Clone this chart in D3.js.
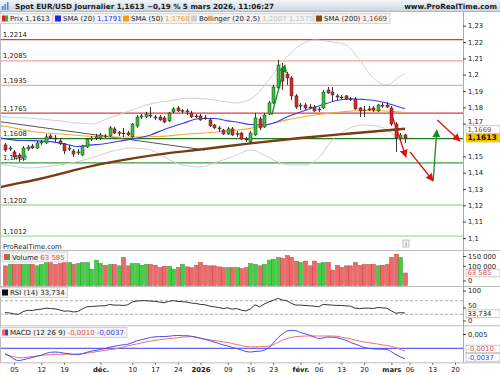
<!DOCTYPE html>
<html>
<head>
<meta charset="utf-8">
<title>Spot EUR/USD Journalier</title>
<script src="https://cdn.jsdelivr.net/npm/d3@7"></script>
<style>
body { margin: 0; background: #fff; }
svg text { font-family: "DejaVu Sans", Verdana, sans-serif; }
</style>
</head>
<body>
<svg id="chart" width="500" height="375"></svg>
<script>
// ---- data ----
const opens  = [1.1570,1.1545,1.1527,1.1508,1.1490,1.1545,1.1563,1.1551,1.1582,1.1582,
                1.1625,1.1612,1.1594,1.1576,1.1545,1.1533,1.1521,1.1508,1.1557,1.1606,
                1.1612,1.1612,1.1625,1.1625,1.1668,1.1643,1.1643,1.1643,1.1619,1.1686,
                1.1741,1.1741,1.1753,1.1741,1.1741,1.1735,1.1717,1.1772,1.1796,1.1778,
                1.1778,1.1765,1.1747,1.1747,1.1735,1.1723,1.1692,1.1674,1.1661,1.1637,
                1.1668,1.1637,1.1643,1.1606,1.1588,1.1631,1.1729,1.1680,1.1759,1.1827,
                1.1919,1.2041,1.2004,1.1980,1.1870,1.1808,1.1814,1.1802,1.1802,1.1784,
                1.1796,1.1906,1.1894,1.1870,1.1863,1.1870,1.1851,1.1851,1.1796,1.1784,
                1.1790,1.1796,1.1778,1.1814,1.1814,1.1796,1.1698,1.1612,1.1631];
const highs  = [1.1582,1.1563,1.1539,1.1521,1.1563,1.1570,1.1576,1.1594,1.1600,1.1637,
                1.1637,1.1631,1.1606,1.1582,1.1570,1.1545,1.1545,1.1570,1.1612,1.1625,
                1.1637,1.1643,1.1637,1.1686,1.1680,1.1655,1.1674,1.1655,1.1704,1.1753,
                1.1759,1.1772,1.1802,1.1753,1.1753,1.1747,1.1772,1.1802,1.1808,1.1790,
                1.1790,1.1778,1.1759,1.1759,1.1753,1.1735,1.1698,1.1686,1.1668,1.1680,
                1.1680,1.1655,1.1649,1.1619,1.1655,1.1765,1.1741,1.1765,1.1839,1.1937,
                1.2090,1.2071,1.2016,1.1992,1.1882,1.1827,1.1827,1.1821,1.1814,1.1802,
                1.1906,1.1925,1.1925,1.1882,1.1876,1.1876,1.1863,1.1863,1.1802,1.1808,
                1.1808,1.1808,1.1821,1.1827,1.1833,1.1808,1.1710,1.1643,1.1637];
const lows   = [1.1527,1.1533,1.1478,1.1466,1.1472,1.1533,1.1545,1.1545,1.1570,1.1576,
                1.1606,1.1588,1.1570,1.1514,1.1533,1.1496,1.1508,1.1502,1.1551,1.1594,
                1.1600,1.1600,1.1612,1.1619,1.1637,1.1625,1.1619,1.1625,1.1612,1.1674,
                1.1729,1.1735,1.1735,1.1723,1.1717,1.1704,1.1710,1.1765,1.1772,1.1765,
                1.1753,1.1735,1.1735,1.1717,1.1723,1.1680,1.1668,1.1649,1.1631,1.1631,
                1.1625,1.1619,1.1600,1.1588,1.1582,1.1625,1.1661,1.1674,1.1753,1.1821,
                1.1906,1.1906,1.1937,1.1845,1.1790,1.1784,1.1784,1.1790,1.1772,1.1772,
                1.1790,1.1882,1.1833,1.1845,1.1851,1.1845,1.1839,1.1784,1.1741,1.1741,
                1.1778,1.1772,1.1772,1.1796,1.1796,1.1686,1.1527,1.1600,1.1582];
const closes = [1.1539,1.1551,1.1496,1.1490,1.1551,1.1557,1.1551,1.1582,1.1588,1.1619,
                1.1612,1.1606,1.1576,1.1533,1.1551,1.1514,1.1527,1.1563,1.1606,1.1612,
                1.1619,1.1631,1.1622,1.1674,1.1643,1.1646,1.1640,1.1631,1.1698,1.1741,
                1.1747,1.1759,1.1747,1.1735,1.1723,1.1710,1.1765,1.1790,1.1778,1.1780,
                1.1772,1.1741,1.1745,1.1723,1.1733,1.1686,1.1674,1.1668,1.1637,1.1668,
                1.1631,1.1640,1.1606,1.1600,1.1643,1.1735,1.1674,1.1753,1.1827,1.1925,
                1.2059,1.1961,1.1980,1.1870,1.1802,1.1814,1.1796,1.1800,1.1778,1.1790,
                1.1894,1.1888,1.1876,1.1863,1.1860,1.1851,1.1848,1.1790,1.1778,1.1781,
                1.1787,1.1784,1.1814,1.1808,1.1802,1.1698,1.1612,1.1631,1.1613];
const volumes = [100000,107000,107000,107000,107000,107000,107000,100000,107000,121000,
                 117000,107000,112000,117000,117000,107000,112000,117000,117000,83000,
                 128000,112000,103000,107000,107000,100000,143000,100000,112000,112000,
                 103000,107000,107000,103000,91000,98000,98000,83000,91000,107000,
                 95000,91000,103000,117000,103000,100000,100000,95000,91000,91000,
                 91000,91000,86000,91000,112000,107000,100000,107000,129000,134000,
                 143000,138000,152000,143000,124000,117000,124000,100000,124000,112000,
                 117000,117000,78000,103000,91000,100000,100000,117000,103000,107000,
                 107000,107000,100000,103000,107000,143000,159000,143000,63585];
const rsiValues = [35,34,31,30,38,42,41,44,45,48,
                   47,46,43,39,40,37,38,46,52,53,
                   54,55,55,59,57,57,56,58,66,69,
                   70,70,69,68,66,64,68,70,68,67,
                   66,63,62,59,58,54,52,50,47,49,
                   45,47,42,40,46,58,52,60,66,71,
                   77,72,70,62,57,57,56,55,54,52,
                   59,58,57,56,56,55,54,48,47,48,
                   48,47,50,49,48,40,33,35,33.734];
const macdValues = [-0.0018,-0.0027,-0.0038,-0.0043,-0.0040,-0.0036,-0.0032,-0.0028,-0.0024,-0.0018,
                    -0.0014,-0.0013,-0.0014,-0.0017,-0.0019,-0.0021,-0.0022,-0.0019,-0.0014,-0.0010,
                    -0.0007,-0.0004,-0.0001,0.0004,0.0007,0.0010,0.0012,0.0014,0.0020,0.0026,
                    0.0030,0.0034,0.0038,0.0040,0.0041,0.0041,0.0042,0.0044,0.0045,0.0044,
                    0.0044,0.0042,0.0039,0.0035,0.0031,0.0027,0.0022,0.0017,0.0012,0.0008,
                    0.0003,-0.0001,-0.0006,-0.0011,-0.0013,-0.0011,-0.0010,-0.0007,0.0002,0.0018,
                    0.0036,0.0050,0.0060,0.0063,0.0062,0.0055,0.0051,0.0046,0.0040,0.0034,
                    0.0036,0.0039,0.0039,0.0037,0.0033,0.0028,0.0021,0.0015,0.0009,0.0003,
                    0.0000,-0.0002,-0.0003,-0.0003,-0.0004,-0.0012,-0.0022,-0.0030,-0.0037];
const signalValues = [-0.0022,-0.0026,-0.0030,-0.0033,-0.0033,-0.0031,-0.0029,-0.0027,-0.0025,-0.0023,
                      -0.0022,-0.0021,-0.0021,-0.0021,-0.0021,-0.0021,-0.0020,-0.0019,-0.0017,-0.0015,
                      -0.0012,-0.0010,-0.0007,-0.0005,-0.0003,0.0001,0.0004,0.0008,0.0012,0.0015,
                      0.0019,0.0022,0.0025,0.0028,0.0030,0.0032,0.0034,0.0035,0.0037,0.0039,
                      0.0040,0.0041,0.0039,0.0036,0.0032,0.0030,0.0027,0.0025,0.0022,0.0021,
                      0.0017,0.0013,0.0010,0.0006,0.0005,0.0005,0.0006,0.0006,0.0007,0.0012,
                      0.0020,0.0028,0.0034,0.0038,0.0041,0.0042,0.0043,0.0043,0.0043,0.0043,
                      0.0043,0.0043,0.0043,0.0042,0.0039,0.0036,0.0033,0.0029,0.0025,0.0022,
                      0.0020,0.0017,0.0015,0.0012,0.0010,0.0007,0.0002,-0.0004,-0.0010];

// moving averages / bands as [candle index, price]
const sma20 = [[-1,1.1612],[0,1.1608],[3,1.1597],[6,1.1596],[10,1.1590],[13,1.1577],[16,1.1560],[19,1.1570],
               [21,1.1574],[25,1.1592],[28,1.1606],[32,1.1631],[35,1.1664],[39,1.1701],[43,1.1732],[46,1.1732],
               [49,1.1717],[51,1.1710],[54,1.1695],[57,1.1692],[60,1.1713],[62,1.1741],[65,1.1772],[69,1.1808],
               [73,1.1842],[76,1.1853],[79,1.1848],[82,1.1839],[85,1.1817],[88,1.1791]];
const sma50 = [[-1,1.1688],[0,1.1684],[6,1.1652],[13,1.1635],[21,1.1620],[28,1.1618],[32,1.1620],[36,1.1625],
               [39,1.1634],[43,1.1641],[50,1.1658],[54,1.1671],[58,1.1695],[62,1.1723],[66,1.1744],[72,1.1767],
               [80,1.1781],[85,1.1776],[88,1.1768]];
const sma200 = [[-1,1.1311],[0,1.1318],[6,1.1352],[21,1.1452],[36,1.1520],[43,1.1542],[54,1.1579],
                [65,1.1612],[76,1.1640],[88,1.1669]];
const bollUpper = [[-1,1.1745],[0,1.1741],[5,1.1735],[12,1.1717],[19,1.1698],[23,1.1735],[28,1.1784],[32,1.1821],
                   [36,1.1839],[41,1.1857],[46,1.1845],[51,1.1827],[55,1.1870],[58,1.1967],[62,1.2108],[65,1.2182],
                   [68,1.2212],[72,1.2200],[75,1.2182],[78,1.2090],[81,1.1980],[84,1.1937],[87,1.1992],[88,1.2007]];
const bollLower = [[-1,1.1450],[0,1.1447],[5,1.1429],[12,1.1447],[19,1.1490],[23,1.1527],[28,1.1551],[32,1.1539],
                   [35,1.1496],[39,1.1447],[43,1.1435],[46,1.1459],[51,1.1508],[54,1.1539],[57,1.1508],[60,1.1466],
                   [63,1.1447],[66,1.1447],[69,1.1490],[72,1.1600],[76,1.1674],[79,1.1692],[82,1.1686],[85,1.1643],
                   [88,1.1575]];
const trendLine = [[-1.1,1.1712],[44,1.1539]];

// horizontal levels drawn on the chart
const levelValues = [1.2214,1.2085,1.1935,1.1765,1.1608,1.1460,1.1202,1.1012];
const levelColors = ['#e23b3b','#f4a3a3','#f4a3a3','#e23b3b','#1e7a1e','#3c9c3c','#a9daa9','#a9daa9'];

// drawn arrows [index, price] -> [index, price]
const arrows = [
  {from:[58.7,1.1753], to:[61.6,1.2059], color:'#1a8a1a'},
  {from:[84.9,1.1772], to:[88.2,1.1496], color:'#e01010'},
  {from:[89.1,1.1527], to:[94.2,1.1349], color:'#e01010'},
  {from:[94.2,1.1349], to:[95.0,1.1661], color:'#1a8a1a'},
  {from:[95.1,1.1723], to:[100.1,1.1594], color:'#e01010'}
];

// date axis
const dateTickIdx    = [2,8,13,21,28,33,38,43,49,54,59,65,69,74,79,85,89,94,99];
const dateTickLabels = ['05','12','19','déc.','10','17','24','2026','09','16','23','févr.','06','13','20','mars','06','13','20'];
const boldTicks = ['déc.','2026','févr.','mars'];

const priceTicks = [1.1,1.11,1.12,1.13,1.14,1.15,1.17,1.18,1.19,1.2,1.21,1.22,1.23];
const volumeTicks = [0,100000,150000];
const rsiTicks = [0,50,100];
const macdTicks = [0.005];

// ---- layout ----
const plotR = 463;
const mainTop = 12, mainBot = 250.5, volTop = 251, volBot = 286.5, rsiTop = 287, rsiBot = 325.8, macdTop = 326, macdBot = 362.8;

const svg = d3.select('#chart');
const defs = svg.append('defs');

const x = d3.scaleLinear().domain([0, 88]).range([5, 405]);
const yMain = d3.scaleLinear().domain([1.1, 1.22]).range([238, 42]);
const yVol = d3.scaleLinear().domain([0, 150000]).range([285.5, 256]);
const yRsi = d3.scaleLinear().domain([0, 100]).range([324.5, 290.5]);
const yMacd = d3.scaleLinear().domain([0, 0.005]).range([348.3, 334]);

const comma = (v, d) => v.toFixed(d).replace('.', ',');
const fmtPrice = v => String(+v.toFixed(2)).replace('.', ',');
const fmtVol = d3.formatLocale({decimal: ',', thousands: '\u00a0', grouping: [3], currency: ['', '']}).format(',d');

function clip(id, y0, y1){
    defs.append('clipPath').attr('id', id)
        .append('rect').attr('x', 0).attr('y', y0).attr('width', plotR).attr('height', y1 - y0);
    return `url(#${id})`;
}

// ---- main panel ----
const main = svg.append('g').attr('clip-path', clip('clipMain', mainTop, mainBot));

main.selectAll('line.level').data(levelValues).join('line')
    .attr('class', 'level')
    .attr('x1', 0).attr('x2', plotR)
    .attr('y1', d => yMain(d)).attr('y2', d => yMain(d))
    .attr('stroke', (d, i) => levelColors[i]).attr('stroke-width', 1.3);

main.selectAll('text.level').data(levelValues).join('text')
    .attr('class', 'level')
    .attr('x', 3).attr('y', d => yMain(d) - 2.5)
    .attr('font-size', 6.8).attr('fill', '#222')
    .text(d => comma(d, 4));

const priceLine = d3.line().x(d => x(d[0])).y(d => yMain(d[1])).curve(d3.curveMonotoneX);

main.append('path').datum(bollUpper).attr('d', priceLine).attr('fill', 'none').attr('stroke', '#cfcfcf').attr('stroke-width', 1);
main.append('path').datum(bollLower).attr('d', priceLine).attr('fill', 'none').attr('stroke', '#cfcfcf').attr('stroke-width', 1);
main.append('path').datum(trendLine).attr('d', priceLine).attr('fill', 'none').attr('stroke', '#555').attr('stroke-width', 1);
main.append('path').datum(sma200).attr('d', priceLine).attr('fill', 'none').attr('stroke', '#7b3a10').attr('stroke-width', 2.4);
main.append('path').datum(sma50).attr('d', priceLine).attr('fill', 'none').attr('stroke', '#f7a830').attr('stroke-width', 1.1);
main.append('path').datum(sma20).attr('d', priceLine).attr('fill', 'none').attr('stroke', '#3b3bf0').attr('stroke-width', 1.1);

const candles = closes.map((c, i) => ({i, o: opens[i], h: highs[i], l: lows[i], c}));
const gCandle = main.append('g');
gCandle.selectAll('line').data(candles).join('line')
    .attr('x1', d => Math.round(x(d.i)) + 0.5).attr('x2', d => Math.round(x(d.i)) + 0.5)
    .attr('y1', d => yMain(d.h)).attr('y2', d => yMain(d.l))
    .attr('stroke', '#222').attr('stroke-width', 0.9);
gCandle.selectAll('rect').data(candles).join('rect')
    .attr('x', d => Math.round(x(d.i)) - 1).attr('width', 3)
    .attr('y', d => yMain(Math.max(d.o, d.c)))
    .attr('height', d => Math.max(0.8, Math.abs(yMain(d.o) - yMain(d.c))))
    .attr('fill', d => d.c > d.o ? '#35c435' : (d.c < d.o ? '#e52424' : '#222'))
    .attr('stroke', '#2a2a2a').attr('stroke-width', 0.5);

// arrows
arrows.forEach((a, k) => {
    defs.append('marker').attr('id', 'head' + k)
        .attr('viewBox', '0 0 10 10').attr('refX', 9).attr('refY', 5)
        .attr('markerWidth', 8).attr('markerHeight', 8).attr('markerUnits', 'userSpaceOnUse')
        .attr('orient', 'auto')
        .append('path').attr('d', 'M0,0 L10,5 L0,10 z').attr('fill', a.color);
});
svg.append('g').selectAll('line').data(arrows).join('line')
    .attr('x1', d => x(d.from[0])).attr('y1', d => yMain(d.from[1]))
    .attr('x2', d => x(d.to[0])).attr('y2', d => yMain(d.to[1]))
    .attr('stroke', d => d.color).attr('stroke-width', 1.3)
    .attr('marker-end', (d, k) => `url(#head${k})`);

main.append('text').attr('x', 3).attr('y', 249).attr('font-size', 6.8).attr('fill', '#222').text('ProRealTime.com');
const info = svg.append('g').attr('transform', 'translate(403,240)');
info.append('rect').attr('width', 6).attr('height', 7).attr('fill', '#f4f4f4').attr('stroke', '#999').attr('stroke-width', 0.6);
info.append('text').attr('x', 3).attr('y', 6).attr('text-anchor', 'middle').attr('font-size', 6).attr('fill', '#555').text('i');

// ---- volume panel ----
const vol = svg.append('g').attr('clip-path', clip('clipVol', volTop, volBot));
vol.selectAll('rect').data(volumes).join('rect')
    .attr('x', (d, i) => Math.round(x(i)) - 1.5).attr('width', 4)
    .attr('y', d => yVol(d)).attr('height', d => yVol(0) - yVol(d))
    .attr('fill', (d, i) => closes[i] >= opens[i] ? '#45cc45' : '#ee6a6a')
    .attr('stroke', (d, i) => closes[i] >= opens[i] ? '#2a9a2a' : '#c84040')
    .attr('stroke-width', 0.5);

// ---- RSI panel ----
const rsiG = svg.append('g').attr('clip-path', clip('clipRsi', rsiTop, rsiBot));
[70, 30].forEach(v => rsiG.append('line').attr('x1', 0).attr('x2', plotR)
    .attr('y1', yRsi(v)).attr('y2', yRsi(v))
    .attr('stroke', '#999').attr('stroke-width', 0.8).attr('stroke-dasharray', '3,2'));
rsiG.append('path').datum(rsiValues)
    .attr('d', d3.line().x((d, i) => x(i)).y(d => yRsi(d)))
    .attr('fill', 'none').attr('stroke', '#333').attr('stroke-width', 1);

// ---- MACD panel ----
const macdG = svg.append('g').attr('clip-path', clip('clipMacd', macdTop, macdBot));
macdG.append('line').attr('x1', 0).attr('x2', plotR).attr('y1', yMacd(0)).attr('y2', yMacd(0))
    .attr('stroke', '#3b3bf0').attr('stroke-width', 1);
macdG.append('path').datum(signalValues)
    .attr('d', d3.line().x((d, i) => x(i)).y(d => yMacd(d)).curve(d3.curveMonotoneX))
    .attr('fill', 'none').attr('stroke', '#f07070').attr('stroke-width', 1);
macdG.append('path').datum(macdValues)
    .attr('d', d3.line().x((d, i) => x(i)).y(d => yMacd(d)).curve(d3.curveMonotoneX))
    .attr('fill', 'none').attr('stroke', '#4a4af5').attr('stroke-width', 1);

// ---- frame lines ----
[mainBot, volBot, rsiBot, macdBot].forEach(y => svg.append('line')
    .attr('x1', 0).attr('x2', 500).attr('y1', y).attr('y2', y).attr('stroke', '#bbb').attr('stroke-width', 1));
svg.append('line').attr('x1', plotR + 0.5).attr('x2', plotR + 0.5).attr('y1', 12).attr('y2', macdBot)
    .attr('stroke', '#aaa').attr('stroke-width', 1);
svg.append('line').attr('x1', 0.5).attr('x2', 0.5).attr('y1', 12).attr('y2', macdBot)
    .attr('stroke', '#bbb').attr('stroke-width', 1);

// ---- right axes ----
function rightAxis(scale, ticks, fmt){
    const g = svg.append('g').attr('transform', `translate(${plotR},0)`)
        .call(d3.axisRight(scale).tickValues(ticks).tickSize(3).tickPadding(2).tickFormat(fmt));
    g.select('.domain').remove();
    g.selectAll('line').attr('stroke', '#444');
    g.selectAll('text').attr('font-size', 6.8).attr('fill', '#222').attr('font-family', '"DejaVu Sans", sans-serif');
    return g;
}
const priceAxis = rightAxis(yMain, priceTicks, fmtPrice);
priceAxis.selectAll('.tick').filter(d => d === 1.17).select('text').attr('dy', '-0.05em');
const volAxis = rightAxis(yVol, volumeTicks, d => fmtVol(d));
volAxis.selectAll('.tick').filter(d => d === 0).attr('transform', 'translate(0,281)');
const rsiAxis = rightAxis(yRsi, rsiTicks, d => d);
rsiAxis.selectAll('.tick').filter(d => d === 0).attr('transform', 'translate(0,321)');
rsiAxis.selectAll('.tick').filter(d => d === 50).select('text').attr('dy', '0.05em');
rightAxis(yMacd, macdTicks, d => comma(d, 3));

function valueBox(y, label, color, bg, bold, h){
    const g = svg.append('g').attr('transform', `translate(${plotR + 3},${y})`);
    g.append('rect').attr('x', 0).attr('y', -h / 2).attr('width', 34).attr('height', h)
        .attr('fill', bg).attr('stroke', bg === '#fff' ? '#aaa' : 'none').attr('stroke-width', 0.6);
    g.append('text').attr('x', 1.5).attr('y', 2.5).attr('font-size', bold ? 7.6 : 6.8)
        .attr('font-weight', bold ? 'bold' : 'normal').attr('fill', color).text(label);
}
const last = closes.length - 1;
valueBox(yMain(1.1669) + 0.8, comma(1.1669, 4), '#8a4a1a', '#fff', false, 7.6);
valueBox(yMain(closes[last]), comma(closes[last], 4), '#111', '#f6c700', true, 9);
valueBox(yVol(volumes[last]), fmtVol(volumes[last]), '#e04848', '#fff', false, 7.6);
valueBox(yRsi(rsiValues[last]) + 0.6, comma(rsiValues[last], 3), '#222', '#fff', false, 7.6);
const sigBoxY = yMacd(signalValues[last]) - 2.2;
valueBox(sigBoxY, comma(signalValues[last], 4), '#e04848', '#fff', false, 7.6);
valueBox(Math.max(yMacd(macdValues[last]) - 1.5, sigBoxY + 8.4), comma(macdValues[last], 4), '#3b3bf0', '#fff', false, 7.6);

// ---- date axis ----
const xAxis = svg.append('g').attr('transform', `translate(0,${macdBot})`)
    .call(d3.axisBottom(x).tickValues(dateTickIdx).tickSize(2).tickPadding(2)
        .tickFormat((d, i) => dateTickLabels[i]));
xAxis.select('.domain').remove();
xAxis.selectAll('line').attr('stroke', '#666');
xAxis.selectAll('text').attr('font-size', 6.8).attr('fill', '#222').attr('font-family', '"DejaVu Sans", sans-serif')
    .attr('font-weight', (d, i) => boldTicks.includes(dateTickLabels[i]) ? 'bold' : 'normal');

// ---- header ----
const grad = defs.append('linearGradient').attr('id', 'hdr').attr('x1', 0).attr('x2', 0).attr('y1', 0).attr('y2', 1);
grad.append('stop').attr('offset', 0).attr('stop-color', '#f1f5f8');
grad.append('stop').attr('offset', 1).attr('stop-color', '#c9d5df');
svg.append('rect').attr('x', 0).attr('y', 0).attr('width', 500).attr('height', 11.5).attr('fill', 'url(#hdr)');
svg.append('line').attr('x1', 0).attr('x2', 500).attr('y1', 11.5).attr('y2', 11.5).attr('stroke', '#a9b7c3');
const icon = svg.append('g');
[[2, 6, 4], [4.5, 4, 6], [7, 2, 8]].forEach(b => icon.append('rect')
    .attr('x', b[0]).attr('y', b[1]).attr('width', 1.5).attr('height', b[2]).attr('fill', '#3a8ad8'));
svg.append('text').attr('x', 15).attr('y', 8.6).attr('font-size', 7.2).attr('font-weight', 'bold').attr('fill', '#1a1a1a')
    .text('Spot EUR/USD Journalier 1,1613 \u22120,19 % 5 mars 2026, 11:06:27');
svg.append('text').attr('x', 497).attr('y', 8.6).attr('text-anchor', 'end').attr('font-size', 7.2)
    .attr('font-weight', 'bold').attr('fill', '#1a1a1a').text('www.ProRealTime.com');

// ---- legends ----
function legendBox(x0, y0, swatch, parts){
    const g = svg.append('g').attr('transform', `translate(${x0},${y0})`);
    const bg = g.append('rect').attr('x', 0).attr('y', 0).attr('height', 10)
        .attr('fill', '#f3f3f3').attr('stroke', '#c6c6c6').attr('stroke-width', 0.7);
    swatch.forEach((c, k) => g.append('rect').attr('x', 2 + k * 3).attr('y', 2)
        .attr('width', 6 / swatch.length).attr('height', 6).attr('fill', c));
    const t = g.append('text').attr('x', 10).attr('y', 7.6).attr('font-size', 7);
    parts.forEach(p => t.append('tspan').attr('fill', p[1]).text(p[0]));
    bg.attr('width', t.node().getComputedTextLength() + 13);
    return g;
}
legendBox(0, 13.5, ['#e02020', '#2cb82c'], [['Prix 1,1613', '#222']]);
legendBox(53, 13.5, ['#2222ee'], [['SMA (20) ', '#222'], ['1,1791', '#2f2ff0']]);
legendBox(121, 13.5, ['#ff9a10'], [['SMA (50) ', '#222'], ['1,1768', '#f59a20']]);
legendBox(189, 13.5, ['#cfcfcf'], [['Bollinger (20 2,5) ', '#222'], ['1,2007 1,1575', '#c4c4c4']]);
legendBox(314, 13.5, ['#8b4510'], [['SMA (200) ', '#222'], ['1,1669', '#8a4a1a']]);
legendBox(2, 252, ['#e05050', '#2cb82c'], [['Volume ', '#222'], ['63\u00a0585', '#e05050']]);
legendBox(0, 287.5, ['#111'], [['RSI (14) 33,734', '#222']]);
legendBox(0, 327.5, ['#f07070', '#3b3bf0'], [['MACD (12 26 9) ', '#222'], ['-0,0010', '#e05050'], [' -0,0037', '#3b3bf0']]);
</script>
</body>
</html>
